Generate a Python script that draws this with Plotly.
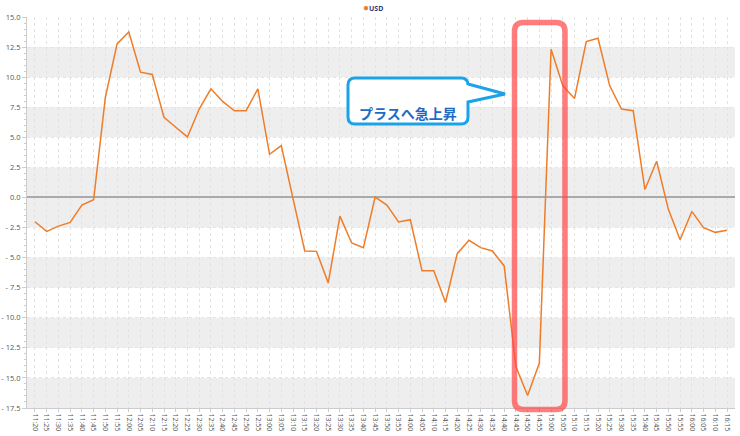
import plotly.graph_objects as go

times = ["11:20", "11:25", "11:30", "11:35", "11:40", "11:45", "11:50", "11:55",
         "12:00", "12:05", "12:10", "12:15", "12:20", "12:25", "12:30", "12:35",
         "12:40", "12:45", "12:50", "12:55", "13:00", "13:05", "13:10", "13:15",
         "13:20", "13:25", "13:30", "13:35", "13:40", "13:45", "13:50", "13:55",
         "14:00", "14:05", "14:10", "14:15", "14:20", "14:25", "14:30", "14:35",
         "14:40", "14:45", "14:50", "14:55", "15:00", "15:05", "15:10", "15:15",
         "15:20", "15:25", "15:30", "15:35", "15:40", "15:45", "15:50", "15:55",
         "16:00", "16:05", "16:10", "16:15"]

usd = [-2.02, -2.82, -2.38, -2.07, -0.64, -0.19, 8.31, 12.76,
       13.76, 10.41, 10.22, 6.66, 5.84, 5.03, 7.35, 9.03,
       7.98, 7.21, 7.21, 9.03, 3.59, 4.31, -0.1, -4.45,
       -4.48, -7.10, -1.55, -3.78, -4.17, 0.03, -0.64, -2.04,
       -1.85, -6.10, -6.10, -8.73, -4.67, -3.56, -4.17, -4.45,
       -5.69, -14.06, -16.46, -13.76, 12.32, 9.28, 8.23, 12.96,
       13.23, 9.28, 7.35, 7.21, 0.66, 3.01, -0.99, -3.51,
       -1.16, -2.51, -2.90, -2.73]

y_ticks = [15, 12.5, 10, 7.5, 5, 2.5, 0, -2.5, -5, -7.5, -10, -12.5, -15, -17.5]
y_tick_text = ["15.0", "12.5", "10.0", "7.5", "5.0", "2.5", "0.0", "- 2.5", "- 5.0",
               "- 7.5", "- 10.0", "- 12.5", "- 15.0", "- 17.5"]
bands = [(10, 12.5), (5, 7.5), (-2.5, 2.5), (-7.5, -5), (-12.5, -10), (-17.5, -15)]

callout_text = "プラスへ急上昇"
series_name = "USD"
line_color = "#ee7d2a"

W, H = 740, 436
L, R, T, B = 27, 735, 17, 408


def px2x(p):
    return (p - L) / (R - L)


def py2y(p):
    return (B - p) / (B - T)


def P(x, y):
    return f"{px2x(x):.5f},{py2y(y):.5f}"


def rounded_rect(x0, y0, x1, y1, r):
    return (f"M {P(x0 + r, y0)} L {P(x1 - r, y0)} Q {P(x1, y0)} {P(x1, y0 + r)} "
            f"L {P(x1, y1 - r)} Q {P(x1, y1)} {P(x1 - r, y1)} "
            f"L {P(x0 + r, y1)} Q {P(x0, y1)} {P(x0, y1 - r)} "
            f"L {P(x0, y0 + r)} Q {P(x0, y0)} {P(x0 + r, y0)} Z")


def bubble(x0, y0, x1, y1, r, ty0, tip_x, tip_y, ty1):
    return (f"M {P(x0 + r, y0)} L {P(x1 - r, y0)} Q {P(x1, y0)} {P(x1, y0 + r)} "
            f"L {P(x1, ty0)} L {P(tip_x, tip_y)} L {P(x1, ty1)} "
            f"L {P(x1, y1 - r)} Q {P(x1, y1)} {P(x1 - r, y1)} "
            f"L {P(x0 + r, y1)} Q {P(x0, y1)} {P(x0, y1 - r)} "
            f"L {P(x0, y0 + r)} Q {P(x0, y0)} {P(x0 + r, y0)} Z")


fig = go.Figure()
fig.add_trace(go.Scatter(x=times, y=usd, mode="lines", name=series_name,
                         line=dict(color=line_color, width=1.5), showlegend=False,
                         hoverinfo="x+y"))

for lo, hi in bands:
    fig.add_shape(type="rect", xref="paper", yref="y", x0=0, x1=1, y0=lo, y1=hi,
                  fillcolor="#eeeeee", line=dict(width=0), layer="below")

# red highlight box
fig.add_shape(type="path", xref="paper", yref="paper",
              path=rounded_rect(514.5, 22.5, 565, 409.5, 9),
              line=dict(color="rgba(255,70,70,0.7)", width=5.5), layer="above")

# speech bubble
fig.add_shape(type="path", xref="paper", yref="paper",
              path=bubble(348, 78, 468, 124, 7, 84, 505, 94, 102),
              fillcolor="white", line=dict(color="#1aa3e8", width=3), layer="above")

fig.add_annotation(x=px2x(408), y=py2y(101), xref="paper", yref="paper",
                   text=f"<b>{callout_text}</b>", showarrow=False,
                   font=dict(family="Noto Sans CJK JP", size=14, color="#1f6bc4"))

# legend (series key)
fig.add_annotation(x=px2x(373), y=py2y(7), xref="paper", yref="paper",
                   yanchor="middle",
                   text=(f"<span style='color:{line_color};font-size:10px'>●</span>"
                         f"<b>{series_name}</b>"),
                   showarrow=False, borderpad=0,
                   font=dict(size=7, color="#2e3a80"))

fig.update_layout(
    width=W, height=H,
    margin=dict(l=L, r=W - R, t=T, b=H - B, autoexpand=False),
    plot_bgcolor="white", paper_bgcolor="white",
    font=dict(family="Open Sans", color="#555555"),
    showlegend=False,
    xaxis=dict(type="category", range=[-0.68, 59.68], tickangle=90,
               tickfont=dict(size=7, color="#555555"),
               showgrid=True, gridcolor="#e2e2e2", griddash="dot", gridwidth=1,
               showline=True, linecolor="#cccccc", ticks="outside", ticklen=3,
               tickcolor="#cccccc", zeroline=False, fixedrange=True),
    yaxis=dict(range=[-17.5, 15], tickmode="array", tickvals=y_ticks, ticktext=y_tick_text,
               tickfont=dict(size=7.5, color="#555555"),
               showgrid=True, gridcolor="#e4e4e4", griddash="dot",
               showline=True, linecolor="#cccccc", ticks="outside", ticklen=4,
               tickcolor="#cccccc",
               minor=dict(tickmode="linear", tick0=0, dtick=0.5, ticks="outside",
                          ticklen=2, tickcolor="#cccccc", showgrid=False),
               zeroline=True, zerolinecolor="#aaaaaa", zerolinewidth=1.5,
               fixedrange=True),
)

fig.write_html("out.html", config={"displayModeBar": False},
               post_script="document.body.style.margin='0';")
